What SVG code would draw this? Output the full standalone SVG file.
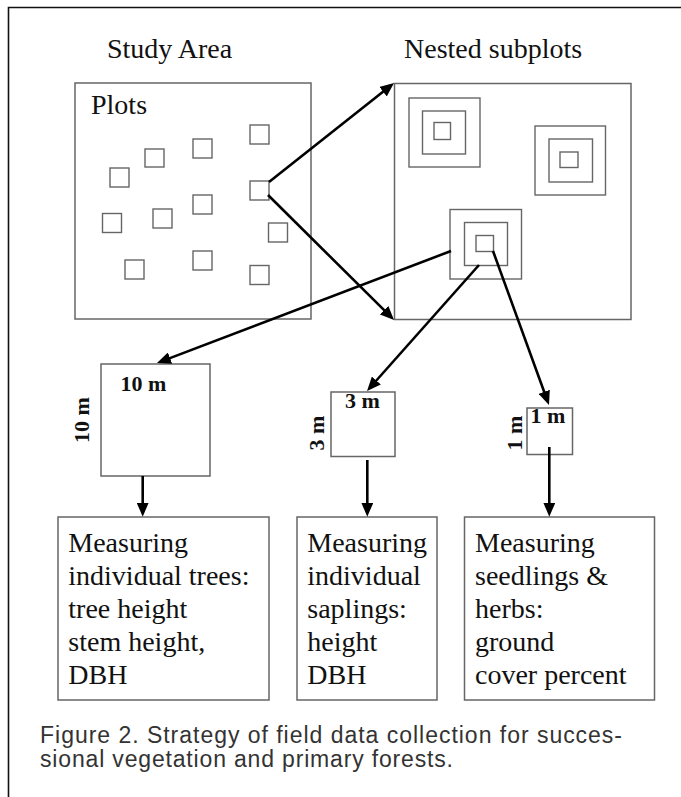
<svg xmlns="http://www.w3.org/2000/svg" width="681" height="797" viewBox="0 0 681 797">
<style>
.bg{fill:#ffffff}
.frame{fill:none;stroke:#111;stroke-width:1.6}
.box{fill:none;stroke:#666;stroke-width:1.5}
.sq{fill:none;stroke:#666;stroke-width:1.4}
.t{font-family:"Liberation Serif","Times New Roman",serif;font-size:28px;fill:#111}
.dim{font-family:"Liberation Serif","Times New Roman",serif;font-size:22px;font-weight:bold;fill:#111}
.cap{font-family:"Liberation Sans",Arial,sans-serif;font-size:23px;fill:#333}
.arr{fill:none;stroke:#000;stroke-width:2.6;marker-end:url(#ah)}
</style>
<defs>
<marker id="ah" viewBox="0 0 14 12" refX="10" refY="6" markerWidth="14" markerHeight="12" markerUnits="userSpaceOnUse" orient="auto">
<path d="M0,0 L14,6 L0,12 Z" fill="#000"/>
</marker>
</defs>
<rect class="bg" x="0" y="0" width="681" height="797"/>
<path class="frame" d="M8.5,797 V7.5 H681"/>

<g id="study-area">
<text class="t" x="107" y="57.5">Study Area</text>
<rect class="box" x="75" y="83" width="236" height="236"/>
<text class="t" x="91" y="113.5">Plots</text>
<rect class="sq" x="250" y="125" width="19" height="19"/>
<rect class="sq" x="193" y="139" width="19" height="19"/>
<rect class="sq" x="145" y="149" width="19" height="18"/>
<rect class="sq" x="110" y="168" width="19" height="19"/>
<rect class="sq" x="250" y="181" width="19" height="19"/>
<rect class="sq" x="193" y="195" width="19" height="19"/>
<rect class="sq" x="153" y="209" width="19" height="19"/>
<rect class="sq" x="102.5" y="213.5" width="19" height="19"/>
<rect class="sq" x="268.5" y="223" width="19" height="19"/>
<rect class="sq" x="193" y="251" width="19" height="19"/>
<rect class="sq" x="125" y="260" width="19" height="19"/>
<rect class="sq" x="250" y="265.5" width="19" height="19"/>
</g>

<g id="nested-subplots">
<text class="t" x="404" y="57.5">Nested subplots</text>
<rect class="box" x="394.5" y="83.5" width="236.5" height="236"/>
<rect class="sq" x="409" y="98" width="71" height="69"/>
<rect class="sq" x="422.5" y="111" width="43" height="43"/>
<rect class="sq" x="434" y="122.5" width="16.5" height="17"/>
<rect class="sq" x="535" y="126" width="70.5" height="69"/>
<rect class="sq" x="549" y="139" width="43.5" height="43"/>
<rect class="sq" x="560" y="152" width="18" height="15.5"/>
<rect class="sq" x="450" y="209.5" width="71.5" height="69.5"/>
<rect class="sq" x="464.5" y="222.5" width="43" height="43"/>
<rect class="sq" x="476" y="235.5" width="17.5" height="16"/>
</g>

<g id="subplot-10m">
<rect class="box" x="101" y="364" width="109" height="112"/>
<text class="dim" x="120.5" y="390.5">10 m</text>
<text class="dim" text-anchor="middle" transform="translate(89,420) rotate(-90)">10 m</text>
</g>

<g id="subplot-3m">
<rect class="box" x="331" y="392" width="64" height="64.5"/>
<text class="dim" x="345" y="408">3 m</text>
<text class="dim" text-anchor="middle" transform="translate(324,433) rotate(-90)">3 m</text>
</g>

<g id="subplot-1m">
<rect class="box" x="527" y="408" width="45.5" height="46.5"/>
<text class="dim" x="530.5" y="423">1 m</text>
<text class="dim" text-anchor="middle" transform="translate(521.5,433) rotate(-90)">1 m</text>
</g>

<g id="measure-trees">
<rect class="box" x="58" y="517" width="211" height="183"/>
<text class="t" x="68.3" y="551.5">Measuring</text>
<text class="t" x="68.3" y="584.7">individual trees:</text>
<text class="t" x="68.3" y="617.9">tree height</text>
<text class="t" x="68.3" y="651.1">stem height,</text>
<text class="t" x="68.3" y="684.3">DBH</text>
</g>

<g id="measure-saplings">
<rect class="box" x="297" y="517" width="140" height="183"/>
<text class="t" x="307.3" y="551.5">Measuring</text>
<text class="t" x="307.3" y="584.7">individual</text>
<text class="t" x="307.3" y="617.9">saplings:</text>
<text class="t" x="307.3" y="651.1">height</text>
<text class="t" x="307.3" y="684.3">DBH</text>
</g>

<g id="measure-seedlings">
<rect class="box" x="464.5" y="517" width="190" height="183"/>
<text class="t" x="475" y="551.5">Measuring</text>
<text class="t" x="475" y="584.7">seedlings &amp;</text>
<text class="t" x="475" y="617.9">herbs:</text>
<text class="t" x="475" y="651.1">ground</text>
<text class="t" x="475" y="684.3">cover percent</text>
</g>

<g id="connectors">
<path class="arr" d="M269,182 L390.9,85.5"/>
<path class="arr" d="M268,195 L391.2,317.2"/>
<path class="arr" d="M451,251 L160.7,361.6"/>
<path class="arr" d="M479,265 L369.7,388"/>
<path class="arr" d="M493,251 L547.6,401.2"/>
<path class="arr" d="M142.7,476 L142.7,512.7"/>
<path class="arr" d="M367.3,460 L367.3,512.7"/>
<path class="arr" d="M549.3,447 L549.3,512.7"/>
</g>

<g id="caption">
<text class="cap" x="40" y="743" textLength="582" lengthAdjust="spacing">Figure 2. Strategy of field data collection for succes-</text>
<text class="cap" x="40" y="767" textLength="413" lengthAdjust="spacing">sional vegetation and primary forests.</text>
</g>
</svg>
